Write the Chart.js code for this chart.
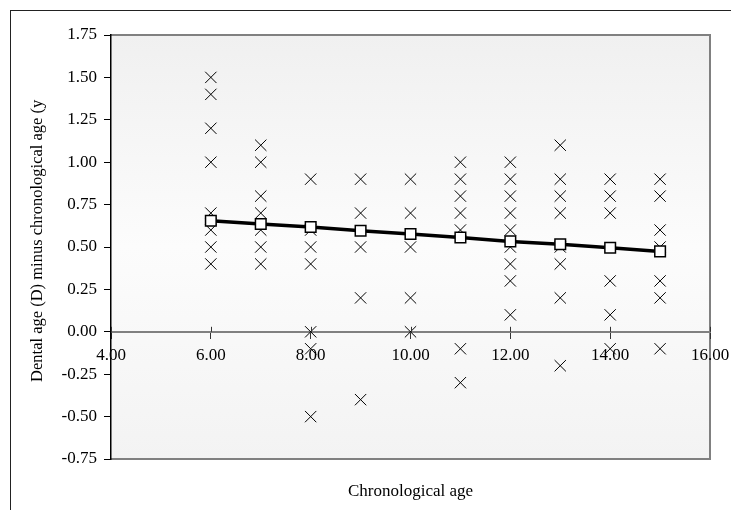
<!DOCTYPE html>
<html>
<head>
<meta charset="utf-8">
<script src="https://cdn.jsdelivr.net/npm/chart.js@4/dist/chart.umd.min.js"></script>
<style>
  html, body { margin: 0; padding: 0; background: #ffffff; overflow: hidden; }
  #wrap { position: relative; width: 731px; height: 510px; }
  #frame { position: absolute; left: 10px; top: 10px; width: 760px; height: 560px;
           border-left: 1.5px solid #222; border-top: 1.5px solid #222; }
  canvas { position: absolute; left: 0; top: 0; }
</style>
</head>
<body>
<div id="wrap">
  <div id="frame"></div>
  <canvas id="c" width="731" height="510"></canvas>
</div>
<script>
// ---- data ----
const ages = [6, 7, 8, 9, 10, 11, 12, 13, 14, 15];
const obs6  = [1.5, 1.4, 1.2, 1.0, 0.7, 0.6, 0.5, 0.4];
const obs7  = [1.1, 1.0, 0.8, 0.7, 0.6, 0.5, 0.4];
const obs8  = [0.9, 0.6, 0.5, 0.4, 0.0, -0.1, -0.5];
const obs9  = [0.9, 0.7, 0.5, 0.2, -0.4];
const obs10 = [0.9, 0.7, 0.5, 0.2, 0.0];
const obs11 = [1.0, 0.9, 0.8, 0.7, 0.6, -0.1, -0.3];
const obs12 = [1.0, 0.9, 0.8, 0.7, 0.6, 0.5, 0.4, 0.3, 0.1];
const obs13 = [1.1, 0.9, 0.8, 0.7, 0.5, 0.4, 0.2, -0.2];
const obs14 = [0.9, 0.8, 0.7, 0.3, 0.1, -0.1];
const obs15 = [0.9, 0.8, 0.6, 0.5, 0.3, 0.2, -0.1];
const meanDiff = [0.655, 0.636, 0.618, 0.596, 0.577, 0.556, 0.533, 0.516, 0.496, 0.474];
const xTicks = [4, 6, 8, 10, 12, 14, 16];
const yTitle = "Dental age (D) minus chronological age (y";
const xTitle = "Chronological age";

const obsByAge = [obs6, obs7, obs8, obs9, obs10, obs11, obs12, obs13, obs14, obs15];
const scatterPts = [];
ages.forEach((a, i) => obsByAge[i].forEach(v => scatterPts.push({x: a, y: v})));
const meanPts = ages.map((a, i) => ({x: a, y: meanDiff[i]}));

const FONT = "'Liberation Serif', 'Times New Roman', serif";

const bgPlugin = {
  id: 'plotBg',
  beforeDraw(chart) {
    const {ctx, chartArea: a} = chart;
    const g = ctx.createLinearGradient(0, a.top, 0, a.bottom);
    g.addColorStop(0, '#f0f0f0');
    g.addColorStop(0.5, '#fcfcfc');
    g.addColorStop(1, '#f3f3f3');
    ctx.save();
    ctx.fillStyle = g;
    ctx.fillRect(a.left, a.top, a.right - a.left, a.bottom - a.top);
    ctx.strokeStyle = '#808080';
    ctx.lineWidth = 2;
    ctx.beginPath();
    ctx.moveTo(a.left, a.top);
    ctx.lineTo(a.right, a.top);
    ctx.lineTo(a.right, a.bottom);
    ctx.lineTo(a.left, a.bottom);
    ctx.stroke();
    ctx.restore();
  },
  afterDraw(chart) {
    // upper half of the crossing x tick marks
    const {ctx} = chart;
    const xs = chart.scales.x, ys = chart.scales.y;
    const y0 = ys.getPixelForValue(0);
    ctx.save();
    ctx.strokeStyle = '#333';
    ctx.lineWidth = 1;
    xTicks.forEach(t => {
      const px = Math.round(xs.getPixelForValue(t)) + 0.5;
      ctx.beginPath();
      ctx.moveTo(px, y0 - 5);
      ctx.lineTo(px, y0);
      ctx.stroke();
    });
    ctx.restore();
  }
};

new Chart(document.getElementById('c'), {
  data: {
    datasets: [
      {
        type: 'line',
        data: meanPts,
        borderColor: '#000',
        borderWidth: 3.5,
        pointStyle: 'rect',
        pointRadius: 7.5,
        pointBorderWidth: 1.5,
        pointBorderColor: '#000',
        pointBackgroundColor: '#ffffff',
        tension: 0,
        order: 0
      },
      {
        type: 'scatter',
        data: scatterPts,
        pointStyle: 'crossRot',
        pointRadius: 8,
        pointBorderWidth: 1,
        borderColor: '#000',
        backgroundColor: '#000',
        order: 1
      }
    ]
  },
  options: {
    responsive: false,
    animation: false,
    events: [],
    layout: { padding: { top: 35, right: 21, bottom: 0, left: 0 } },
    plugins: { legend: { display: false }, tooltip: { enabled: false } },
    scales: {
      x: {
        type: 'linear',
        position: { y: 0 },
        min: 4, max: 16,
        afterBuildTicks: s => { s.ticks = xTicks.map(v => ({value: v})); },
        afterFit: s => { s.height = 0; s.paddingLeft = 0; s.paddingRight = 0; },
        grid: { display: true, drawOnChartArea: false, tickLength: 6, color: '#333', lineWidth: 1 },
        border: { display: true, color: '#808080', width: 2 },
        ticks: {
          padding: 8,
          color: '#000',
          maxRotation: 0,
          font: { family: FONT, size: 17 },
          callback: v => Number(v).toFixed(2)
        }
      },
      xt: {
        type: 'linear',
        position: 'bottom',
        min: 4, max: 16,
        afterFit: s => { s.height = 51; s.paddingLeft = 0; s.paddingRight = 0; },
        grid: { display: false },
        border: { display: false },
        ticks: { display: false },
        title: {
          display: true, text: xTitle, color: '#000',
          font: { family: FONT, size: 17 },
          padding: { top: 0, bottom: 8 }
        }
      },
      y: {
        type: 'linear',
        position: 'left',
        min: -0.75, max: 1.75,
        afterFit: s => { s.width = 111; },
        grid: { display: true, drawOnChartArea: false, tickLength: 7, color: '#000', lineWidth: 1 },
        border: { display: true, color: '#000', width: 1.5 },
        ticks: {
          stepSize: 0.25,
          padding: 7,
          color: '#000',
          font: { family: FONT, size: 17 },
          callback: v => Number(v).toFixed(2)
        },
        title: {
          display: true, text: '   ' + yTitle, color: '#000',
          font: { family: FONT, size: 16.5 },
          padding: { top: 28, bottom: 0 }
        }
      }
    }
  },
  plugins: [bgPlugin]
});
</script>
</body>
</html>
